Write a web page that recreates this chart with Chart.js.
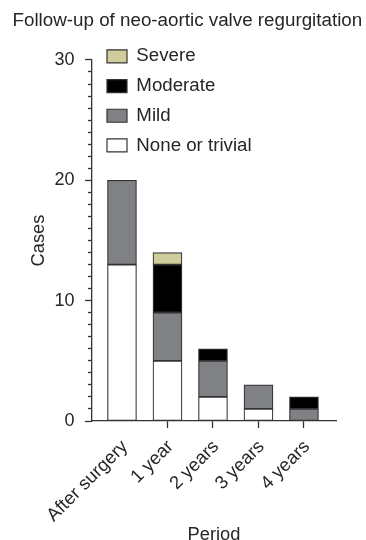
<!DOCTYPE html>
<html>
<head>
<meta charset="utf-8">
<script src="https://cdn.jsdelivr.net/npm/chart.js@4/dist/chart.umd.min.js"></script>
<style>
  html, body { margin: 0; padding: 0; background: #fff; }
  #wrap { width: 366px; height: 540px; position: relative; }
</style>
</head>
<body>
<div id="wrap"><canvas id="c" width="366" height="540"></canvas></div>
<script>
// ---- data ----
const categories = ['After surgery', '1 year', '2 years', '3 years', '4 years'];
const noneOrTrivial = [13, 5, 2, 1, 0];
const mild          = [7, 4, 3, 2, 1];
const moderate      = [0, 4, 1, 0, 1];
const severe        = [0, 1, 0, 0, 0];
const yTickLabels   = [0, 10, 20, 30];

const FONT = "'Liberation Sans', Arial, Helvetica, sans-serif";
const TEXT = '#262626';
const LINE = '#333333';

function toPoints(arr) {
  return arr.map((v, i) => ({ x: i, y: v === 0 ? null : v }));
}
function ds(label, arr, color) {
  return {
    label: label,
    data: toPoints(arr),
    backgroundColor: color,
    borderColor: LINE,
    borderWidth: 1.2,
    borderSkipped: false,
    barThickness: 29
  };
}

const legendPlacer = {
  id: 'legendPlacer',
  afterLayout(chart) {
    const l = chart.legend;
    if (!l) return;
    l.left = 96; l.top = 36;
    l.right = l.left + l.width; l.bottom = l.top + l.height;
  }
};

new Chart(document.getElementById('c'), {
  type: 'bar',
  data: {
    datasets: [
      ds('None or trivial', noneOrTrivial, '#ffffff'),
      ds('Mild', mild, '#808184'),
      ds('Moderate', moderate, '#000000'),
      ds('Severe', severe, '#cfcd9b')
    ]
  },
  options: {
    responsive: false,
    animation: false,
    events: [],
    layout: { padding: { left: 12.5, right: 0, top: 0, bottom: 0 } },
    plugins: {
      title: {
        display: true,
        text: 'Follow-up of neo-aortic valve regurgitation',
        align: 'start',
        color: TEXT,
        font: { family: FONT, size: 18.8, weight: 'normal' },
        padding: { top: 9.7, bottom: 27.7 }
      },
      legend: {
        position: 'chartArea',
        align: 'start',
        reverse: true,
        labels: {
          color: TEXT,
          font: { family: FONT, size: 18.7 },
          boxWidth: 20,
          boxHeight: 13,
          padding: 11
        }
      },
      tooltip: { enabled: false }
    },
    scales: {
      x: {
        type: 'linear',
        stacked: true,
        min: -0.659,
        max: 4.704,
        offset: false,
        afterFit(s) { s.height = 119; },
        border: { display: true, color: LINE, width: 1.3 },
        grid: {
          display: true,
          offset: false,
          drawOnChartArea: false,
          tickLength: 7,
          tickWidth: 1.3,
          tickColor: (ctx) => (ctx.tick && ctx.tick.value === 0 ? 'rgba(0,0,0,0)' : LINE)
        },
        ticks: {
          stepSize: 1,
          includeBounds: false,
          autoSkip: false,
          minRotation: 45,
          maxRotation: 45,
          color: TEXT,
          font: { family: FONT, size: 18.5 },
          padding: 8,
          labelOffset: 3,
          callback: (v) => categories[v]
        },
        title: {
          display: true,
          text: 'Period',
          color: TEXT,
          font: { family: FONT, size: 18.3 },
          padding: { top: 0, bottom: -6 }
        }
      },
      y: {
        stacked: true,
        position: 'left',
        weight: 10,
        min: 0,
        max: 30,
        afterFit(s) { s.width = 75.5; },
        afterBuildTicks(s) { s.ticks = yTickLabels.map(v => ({ value: v })); },
        border: { display: false },
        grid: {
          display: true,
          drawOnChartArea: false,
          tickLength: 3,
          tickWidth: 1.3,
          tickColor: LINE
        },
        ticks: {
          color: TEXT,
          font: { family: FONT, size: 18 },
          padding: 10.5
        },
        title: {
          display: true,
          text: 'Cases',
          color: TEXT,
          font: { family: FONT, size: 18.3 },
          padding: { top: 15, bottom: 0 }
        }
      },
      yMinor: {
        type: 'linear',
        position: 'left',
        weight: 0,
        min: 0,
        max: 30,
        afterFit(s) { s.width = 4; },
        border: { display: true, color: LINE, width: 1.3 },
        grid: {
          display: true,
          drawOnChartArea: false,
          tickLength: 4,
          tickWidth: 1.3,
          tickColor: LINE
        },
        ticks: { display: false, stepSize: 1 }
      },
      ySpacer: {
        type: 'linear',
        position: 'right',
        min: 0,
        max: 30,
        afterFit(s) { s.width = 30; },
        border: { display: false },
        grid: { display: false, drawTicks: false },
        ticks: { display: false }
      }
    }
  },
  plugins: [legendPlacer]
});
</script>
</body>
</html>
